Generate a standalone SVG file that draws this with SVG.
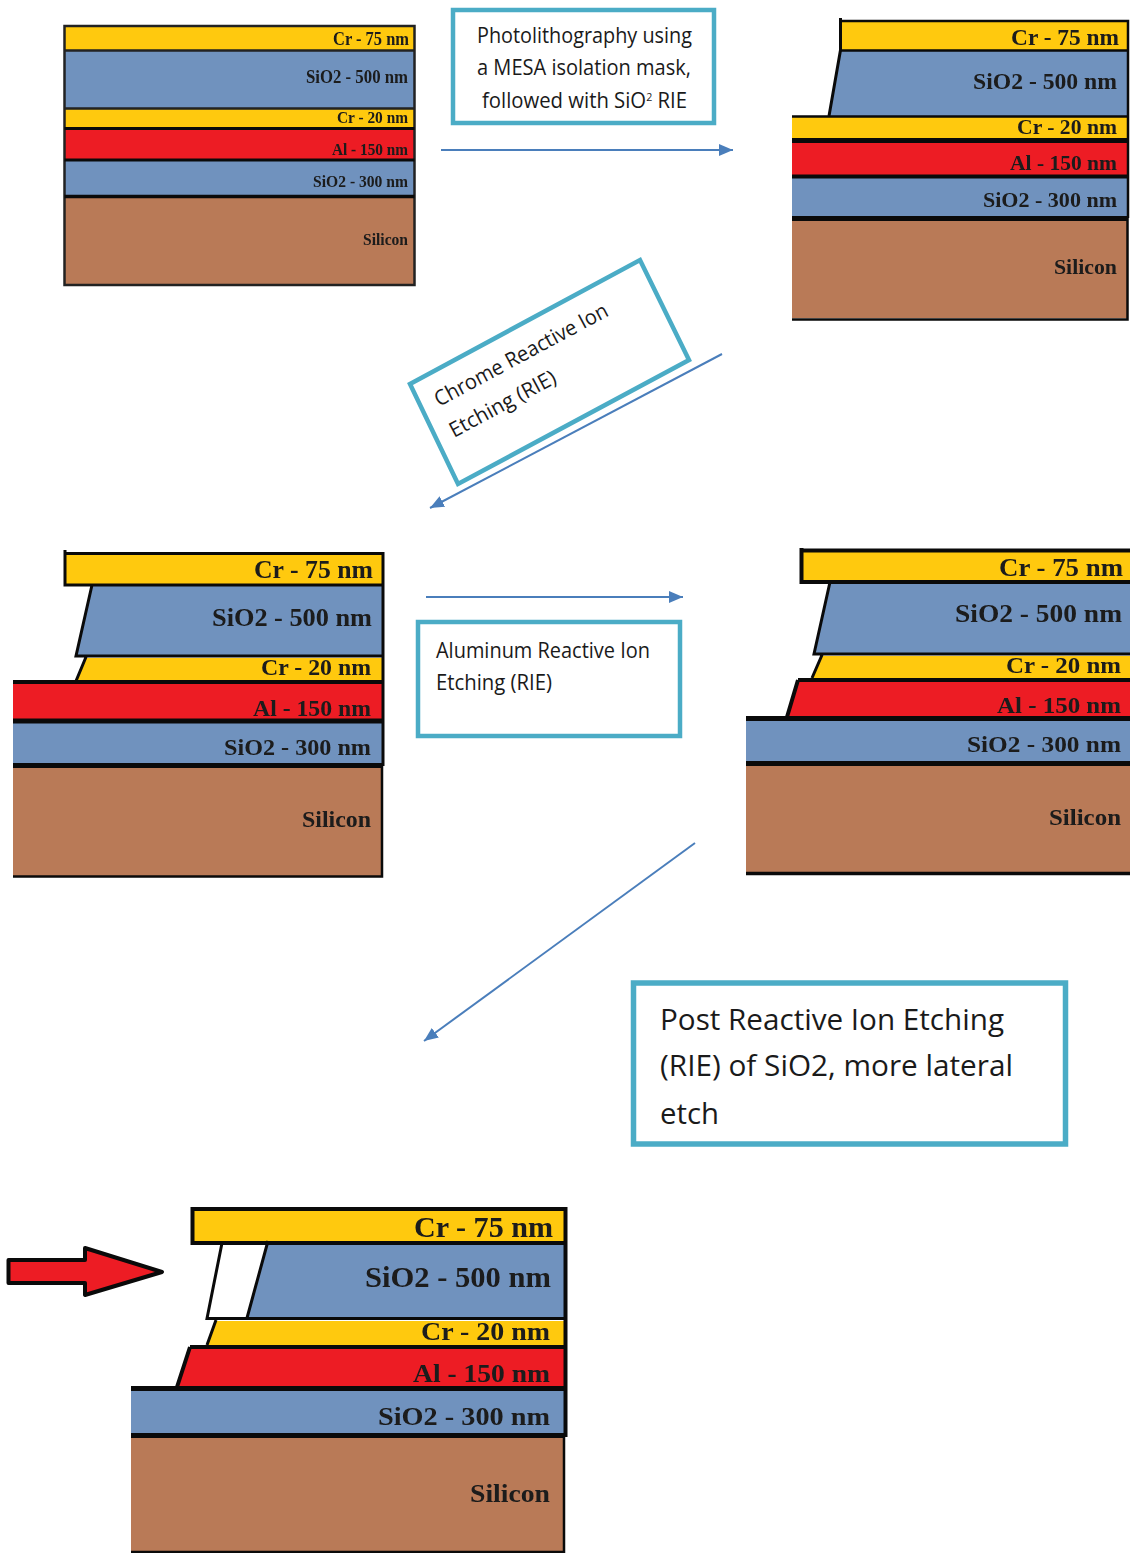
<svg xmlns="http://www.w3.org/2000/svg" width="1130" height="1553" viewBox="0 0 1130 1553">
<style>
.cr{fill:#ffc90e}.ox{fill:#7092be}.al{fill:#ed1c24}.si{fill:#b97a57}
.ln{fill:none;stroke:#0a0a0a;stroke-width:3}
.l{font-family:"Liberation Serif",serif;font-weight:bold;fill:#1a1a1a}
.box{fill:#fff;stroke:#4bacc6}
.t{font-family:"Open Sans","Noto Sans",sans-serif;fill:#1a1a1a}
.arr{fill:none;stroke:#4a7ebb;stroke-width:2;marker-end:url(#ah)}
</style>
<defs>
<marker id="ah" markerUnits="userSpaceOnUse" markerWidth="16" markerHeight="14" refX="14" refY="6" orient="auto"><path d="M0,0L14,6L0,12Z" fill="#4a7ebb"/></marker>
<filter id="b1" x="-5%" y="-20%" width="110%" height="140%"><feGaussianBlur stdDeviation="0.5"/></filter>
</defs>
<rect width="1130" height="1553" fill="#fff"/>
<g id="connectors">
<path class="arr" d="M441,150H733"/>
<path class="arr" d="M722,354L430,508"/>
<path class="arr" d="M426,597H683"/>
<path class="arr" d="M695,843L424,1041"/>
</g>
<g id="stack-1">
<rect class="cr" x="65" y="26" width="349" height="24"/>
<rect class="ox" x="65" y="51" width="349" height="57"/>
<rect class="cr" x="65" y="109" width="349" height="19"/>
<rect class="al" x="65" y="130" width="349" height="29"/>
<rect class="ox" x="65" y="161" width="349" height="34"/>
<rect class="si" x="65" y="197" width="349" height="88"/>
<path class="ln" style="stroke-width:2.5;stroke:#222" d="M64.5,26H414.5V285H64.5ZM64.5,50.5H414.5M64.5,108.5H414.5"/>
<path class="ln" d="M64.5,128.5H414.5M64.5,160H414.5"/>
<path class="ln" style="stroke-width:3.5" d="M64.5,196.5H414.5"/>
<g filter="url(#b1)">
<text class="l" font-size="18" x="333" y="45" textLength="76" lengthAdjust="spacingAndGlyphs">Cr - 75 nm</text>
<text class="l" font-size="18" x="306" y="83" textLength="102" lengthAdjust="spacingAndGlyphs">SiO2 - 500 nm</text>
<text class="l" font-size="17" x="337" y="123" textLength="71" lengthAdjust="spacingAndGlyphs">Cr - 20 nm</text>
<text class="l" font-size="17" x="332" y="155" textLength="76" lengthAdjust="spacingAndGlyphs">Al - 150 nm</text>
<text class="l" font-size="17" x="313" y="187" textLength="95" lengthAdjust="spacingAndGlyphs">SiO2 - 300 nm</text>
<text class="l" font-size="17" x="363" y="245" textLength="45" lengthAdjust="spacingAndGlyphs">Silicon</text>
</g>
</g>
<g id="stack-2">
<rect class="cr" x="841" y="22" width="286" height="28"/>
<polygon class="ox" points="841,50 1127,50 1127,116 829,116"/>
<rect class="cr" x="792" y="117" width="335" height="21"/>
<rect class="al" x="792" y="142" width="335" height="33"/>
<rect class="ox" x="792" y="177" width="335" height="40"/>
<rect class="si" x="792" y="220" width="335" height="98"/>
<path class="ln" d="M840.5,18V50L829,116"/>
<path class="ln" style="stroke-width:2.5" d="M840,21H1128V218M840,50.5H1128M792,116.5H1128M792,319.5H1127.5V218"/>
<path class="ln" style="stroke-width:5" d="M792,140.5H1128M792,218.5H1128"/>
<path class="ln" style="stroke-width:4" d="M792,176.5H1128"/>
<g filter="url(#b1)">
<text class="l" font-size="24" x="1011" y="45" textLength="108" lengthAdjust="spacingAndGlyphs">Cr - 75 nm</text>
<text class="l" font-size="24" x="973" y="89" textLength="144" lengthAdjust="spacingAndGlyphs">SiO2 - 500 nm</text>
<text class="l" font-size="21" x="1017" y="134" textLength="100" lengthAdjust="spacingAndGlyphs">Cr - 20 nm</text>
<text class="l" font-size="21" x="1010" y="170" textLength="107" lengthAdjust="spacingAndGlyphs">Al - 150 nm</text>
<text class="l" font-size="21" x="983" y="207" textLength="134" lengthAdjust="spacingAndGlyphs">SiO2 - 300 nm</text>
<text class="l" font-size="21" x="1054" y="274" textLength="63" lengthAdjust="spacingAndGlyphs">Silicon</text>
</g>
</g>
<g id="stack-3">
<rect class="cr" x="66" y="554" width="316" height="30"/>
<polygon class="ox" points="92,585 382,585 382,656 76,656"/>
<polygon class="cr" points="86,658 382,658 382,681 76,681"/>
<rect class="al" x="13" y="684" width="369" height="35"/>
<rect class="ox" x="13" y="723" width="369" height="41"/>
<rect class="si" x="13" y="767" width="368" height="109"/>
<path class="ln" d="M65,550V585H382.5M65,553.5H383V766M92,585L76,656H382M86,657L76,681"/>
<path class="ln" style="stroke-width:4" d="M13,682H383"/>
<path class="ln" style="stroke-width:5" d="M13,721H383M13,765.5H383"/>
<path class="ln" style="stroke-width:2.5" d="M13,876.5H382V766"/>
<g filter="url(#b1)">
<text class="l" font-size="26" x="254" y="578" textLength="119" lengthAdjust="spacingAndGlyphs">Cr - 75 nm</text>
<text class="l" font-size="26" x="212" y="626" textLength="160" lengthAdjust="spacingAndGlyphs">SiO2 - 500 nm</text>
<text class="l" font-size="23" x="261" y="675" textLength="110" lengthAdjust="spacingAndGlyphs">Cr - 20 nm</text>
<text class="l" font-size="23" x="253" y="716" textLength="118" lengthAdjust="spacingAndGlyphs">Al - 150 nm</text>
<text class="l" font-size="23" x="224" y="755" textLength="147" lengthAdjust="spacingAndGlyphs">SiO2 - 300 nm</text>
<text class="l" font-size="23" x="302" y="827" textLength="69" lengthAdjust="spacingAndGlyphs">Silicon</text>
</g>
</g>
<g id="stack-4">
<rect class="cr" x="803" y="552" width="327" height="29"/>
<polygon class="ox" points="830,582 1130,582 1130,654 815,654"/>
<polygon class="cr" points="822,656 1130,656 1130,678 812,678"/>
<polygon class="al" points="798,681 1130,681 1130,717 787,717"/>
<rect class="ox" x="746" y="720" width="384" height="42"/>
<rect class="si" x="746" y="765" width="384" height="108"/>
<path class="ln" style="stroke-width:4" d="M801.5,548V582H1130M800,550.5H1130"/>
<path class="ln" d="M830,582L814,654H1130M822,655L812,678"/>
<path class="ln" style="stroke-width:4" d="M798,680H1130M798,680L787,717"/>
<path class="ln" style="stroke-width:5" d="M746,718.5H1130M746,763.5H1130"/>
<path class="ln" style="stroke-width:3.5" d="M746,873.5H1130"/>
<g filter="url(#b1)">
<text class="l" font-size="26" x="999" y="576" textLength="124" lengthAdjust="spacingAndGlyphs">Cr - 75 nm</text>
<text class="l" font-size="25" x="955" y="622" textLength="167" lengthAdjust="spacingAndGlyphs">SiO2 - 500 nm</text>
<text class="l" font-size="23" x="1006" y="673" textLength="115" lengthAdjust="spacingAndGlyphs">Cr - 20 nm</text>
<text class="l" font-size="23" x="997" y="713" textLength="124" lengthAdjust="spacingAndGlyphs">Al - 150 nm</text>
<text class="l" font-size="23" x="967" y="752" textLength="154" lengthAdjust="spacingAndGlyphs">SiO2 - 300 nm</text>
<text class="l" font-size="23" x="1049" y="825" textLength="72" lengthAdjust="spacingAndGlyphs">Silicon</text>
</g>
</g>
<g id="stack-5">
<rect class="cr" x="194" y="1210" width="370" height="31"/>
<polygon class="ox" points="268,1243 564,1243 564,1319 247,1319"/>
<polygon class="cr" points="216,1321 564,1321 564,1345 207,1345"/>
<polygon class="al" points="190,1349 564,1349 564,1386 177,1386"/>
<rect class="ox" x="131" y="1390" width="433" height="44"/>
<rect class="si" x="131" y="1438" width="432" height="113"/>
<path class="ln" style="stroke-width:4" d="M192.5,1207V1243H565M191,1209H565.5V1437"/>
<path class="ln" d="M222,1243L207,1318.5H565M268,1241L247,1318M216,1320L207,1345"/>
<path class="ln" style="stroke-width:4" d="M190,1347H565M190,1347L177,1387"/>
<path class="ln" style="stroke-width:5" d="M131,1388.5H565M131,1435.5H565"/>
<path class="ln" style="stroke-width:2.5" d="M131,1552H564V1437"/>
<polygon points="8.5,1260 85,1260 85,1248 162,1272 85,1295 85,1283 8.5,1283" fill="#ed1c24" stroke="#0a0a0a" stroke-width="4" stroke-linejoin="round"/>
<g filter="url(#b1)">
<text class="l" font-size="29" x="414" y="1237" textLength="139" lengthAdjust="spacingAndGlyphs">Cr - 75 nm</text>
<text class="l" font-size="29" x="365" y="1287" textLength="186" lengthAdjust="spacingAndGlyphs">SiO2 - 500 nm</text>
<text class="l" font-size="26" x="421" y="1340" textLength="129" lengthAdjust="spacingAndGlyphs">Cr - 20 nm</text>
<text class="l" font-size="26" x="413" y="1382" textLength="137" lengthAdjust="spacingAndGlyphs">Al - 150 nm</text>
<text class="l" font-size="26" x="378" y="1425" textLength="172" lengthAdjust="spacingAndGlyphs">SiO2 - 300 nm</text>
<text class="l" font-size="26" x="470" y="1502" textLength="80" lengthAdjust="spacingAndGlyphs">Silicon</text>
</g>
</g>
<g id="box-photolithography">
<rect class="box" x="453" y="10" width="261" height="113" stroke-width="4.5"/>
<text class="t" font-size="21" x="477" y="43" textLength="215" lengthAdjust="spacingAndGlyphs">Photolithography using</text>
<text class="t" font-size="21" x="477" y="75" textLength="214" lengthAdjust="spacingAndGlyphs">a MESA isolation mask,</text>
<text class="t" font-size="21" x="482" y="108" textLength="205" lengthAdjust="spacingAndGlyphs">followed with SiO<tspan font-size="11" dy="-7">2</tspan><tspan dy="7"> RIE</tspan></text>
</g>
<g id="box-chrome">
<polygon class="box" points="410,384 640,260 689,360 458,484" stroke-width="4.5"/>
<text class="t" font-size="21" transform="translate(439,407) rotate(-28.3)" textLength="194" lengthAdjust="spacingAndGlyphs">Chrome Reactive Ion</text>
<text class="t" font-size="21" transform="translate(454,438) rotate(-28.3)" textLength="118" lengthAdjust="spacingAndGlyphs">Etching (RIE)</text>
</g>
<g id="box-aluminum">
<rect class="box" x="418" y="622" width="262" height="114" stroke-width="4.5"/>
<text class="t" font-size="21" x="436" y="658" textLength="214" lengthAdjust="spacingAndGlyphs">Aluminum Reactive Ion</text>
<text class="t" font-size="21" x="436" y="690" textLength="116" lengthAdjust="spacingAndGlyphs">Etching (RIE)</text>
</g>
<g id="box-post">
<rect class="box" x="633.5" y="983" width="432" height="161" stroke-width="5.5"/>
<text class="t" font-size="30" x="660" y="1030" textLength="344" lengthAdjust="spacingAndGlyphs">Post Reactive Ion Etching</text>
<text class="t" font-size="30" x="660" y="1076" textLength="353" lengthAdjust="spacingAndGlyphs">(RIE) of SiO2, more lateral</text>
<text class="t" font-size="30" x="660" y="1124" textLength="59" lengthAdjust="spacingAndGlyphs">etch</text>
</g>
</svg>
